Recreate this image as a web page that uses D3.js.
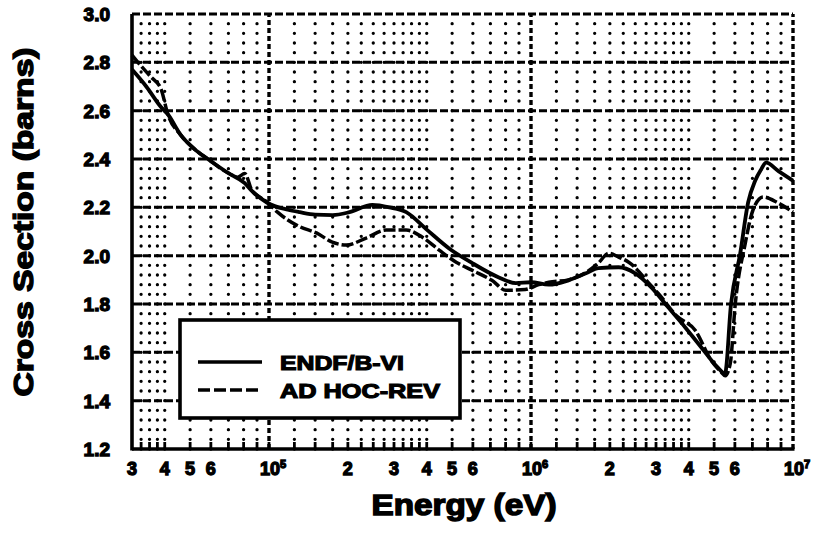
<!DOCTYPE html>
<html>
<head>
<meta charset="utf-8">
<script src="https://cdn.jsdelivr.net/npm/d3@7"></script>
<style>
  body { margin: 0; background: #fff; }
  text { font-family: "Liberation Sans", Arial, sans-serif; font-weight: bold; fill: #000; }
</style>
</head>
<body>
<div id="visContainer"></div>
<script>
// ENDF/B-VI (solid)
const endfEnergy = [3.0e4, 3.4e4, 3.87e4, 4.11e4, 4.6e4, 5.21e4, 5.84e4, 6.96e4, 8.08e4, 8.6e4, 9.88e4,
  1.18e5, 1.31e5, 1.5e5, 1.75e5, 2.03e5, 2.48e5, 2.88e5, 3.34e5, 3.98e5, 4.87e5, 5.95e5, 7.54e5, 8.75e5,
  1.0e6, 1.17e6, 1.39e6, 1.62e6, 1.81e6, 2.16e6, 2.5e6, 2.88e6, 3.34e6, 3.88e6, 4.47e6, 5.18e6, 5.5e6,
  5.8e6, 6.29e6, 6.74e6, 7.17e6, 7.55e6, 7.89e6, 8.8e6, 1.0e7];
const endfXS = [2.77, 2.70, 2.615, 2.585, 2.50, 2.44, 2.40, 2.343, 2.30, 2.268, 2.218,
  2.19, 2.18, 2.17, 2.168, 2.18, 2.21, 2.20, 2.18, 2.11, 2.03, 1.97, 1.91, 1.886,
  1.89, 1.88, 1.898, 1.927, 1.948, 1.952, 1.927, 1.869, 1.786, 1.703, 1.62, 1.536, 1.512,
  1.80, 2.01, 2.22, 2.31, 2.356, 2.385, 2.35, 2.31];

// AD HOC-REV (dashed)
const adhocEnergy = [3.0e4, 3.16e4, 3.54e4, 3.87e4, 4.11e4, 4.6e4, 5.21e4, 5.84e4, 6.96e4, 7.59e4, 8.08e4,
  8.6e4, 9.29e4, 9.88e4, 1.078e5, 1.31e5, 1.517e5, 1.745e5, 1.973e5, 2.35e5, 2.8e5, 3.34e5, 3.84e5,
  4.46e5, 5.18e5, 5.95e5, 7.09e5, 8.02e5, 9.5e5, 1.07e6, 1.17e6, 1.39e6, 1.62e6, 1.81e6, 1.98e6,
  2.16e6, 2.36e6, 2.88e6, 3.06e6, 3.6e6, 4.24e6, 4.88e6, 5.3e6, 5.51e6, 5.76e6, 6.02e6, 6.57e6,
  7.04e6, 7.69e6, 8.77e6, 1.0e7];
const adhocXS = [2.83, 2.80, 2.74, 2.69, 2.585, 2.50, 2.44, 2.40, 2.343, 2.325, 2.34,
  2.27, 2.24, 2.22, 2.18, 2.12, 2.094, 2.056, 2.044, 2.073, 2.106, 2.106, 2.077,
  2.023, 1.973, 1.94, 1.898, 1.857, 1.86, 1.88, 1.89, 1.90, 1.93, 1.97, 2.01,
  1.994, 1.973, 1.875, 1.844, 1.75, 1.69, 1.565, 1.52, 1.503, 1.553, 1.80, 2.05,
  2.19, 2.243, 2.218, 2.18];

const yTicks = [1.2, 1.4, 1.6, 1.8, 2.0, 2.2, 2.4, 2.6, 2.8, 3.0];
const xTickValues = [3e4, 4e4, 5e4, 6e4, 1e5, 2e5, 3e5, 4e5, 5e5, 6e5, 1e6, 2e6, 3e6, 4e6, 5e6, 6e6, 1e7];
const xTickText = ["3", "4", "5", "6", "10|5", "2", "3", "4", "5", "6", "10|6", "2", "3", "4", "5", "6", "10|7"];
const decades = [1e4, 1e5, 1e6];
const gridMantissas = [1.25, 1.5, 1.75, 2, 2.25, 2.5, 2.75, 3, 3.25, 3.5, 3.75, 4, 5, 6, 7, 8, 9];
const legendNames = ["ENDF/B-VI", "AD HOC-REV"];

function renderChart() {
    const width = 816, height = 537;

    const x = d3.scaleLog().domain([3e4, 1e7]).range([132, 793]);
    const y = d3.scaleLinear().domain([1.2, 3.0]).range([449, 14]);

    const svg = d3.select("#visContainer").append("svg")
        .attr("width", width)
        .attr("height", height)
        .style("display", "block")
        .style("background", "#fff");

    // minor dotted columns
    const minor = [];
    decades.forEach(dec => gridMantissas.forEach(m => {
        const v = m * dec;
        if (v > 3e4 * 1.001 && v < 1e7 * 0.999) minor.push(v);
    }));
    const dotStep = y(1.2) - y(1.24);

    const grid = svg.append("g");
    grid.selectAll("line.minor")
        .data(minor)
        .join("line")
        .attr("class", "minor")
        .attr("x1", d => x(d)).attr("x2", d => x(d))
        .attr("y1", y(1.2)).attr("y2", y(3.0))
        .attr("stroke", "#000")
        .attr("stroke-width", 3.3)
        .attr("stroke-linecap", "round")
        .attr("stroke-dasharray", `0 ${dotStep}`);

    // horizontal major dashed lines
    grid.selectAll("line.hmajor")
        .data(yTicks.slice(1))
        .join("line")
        .attr("class", "hmajor")
        .attr("x1", x(3e4)).attr("x2", x(1e7))
        .attr("y1", d => y(d)).attr("y2", d => y(d))
        .attr("stroke", "#000")
        .attr("stroke-width", 3)
        .attr("stroke-dasharray", "8 3");

    // vertical major dashed lines
    grid.selectAll("line.vmajor")
        .data([1e5, 1e6, 1e7])
        .join("line")
        .attr("class", "vmajor")
        .attr("x1", d => x(d)).attr("x2", d => x(d))
        .attr("y1", y(1.2)).attr("y2", y(3.0))
        .attr("stroke", "#000")
        .attr("stroke-width", 3.4)
        .attr("stroke-dasharray", "5 3");

    // small ticks on the bottom axis
    grid.selectAll("line.tick")
        .data(minor.concat([1e5, 1e6]))
        .join("line")
        .attr("class", "tick")
        .attr("x1", d => x(d)).attr("x2", d => x(d))
        .attr("y1", y(1.2)).attr("y2", y(1.2) - 7)
        .attr("stroke", "#000")
        .attr("stroke-width", 2.8);

    // axes lines
    svg.append("line")
        .attr("x1", x(3e4)).attr("x2", x(3e4))
        .attr("y1", y(1.2) + 1.5).attr("y2", y(3.0))
        .attr("stroke", "#000").attr("stroke-width", 3.6);
    svg.append("line")
        .attr("x1", x(3e4)).attr("x2", x(1e7) + 1.5)
        .attr("y1", y(1.2)).attr("y2", y(1.2))
        .attr("stroke", "#000").attr("stroke-width", 3.6);

    // y tick labels
    svg.append("g").selectAll("text")
        .data(yTicks)
        .join("text")
        .attr("x", 110)
        .attr("y", d => y(d) + 7)
        .attr("text-anchor", "end")
        .style("font-size", "19px")
        .attr("stroke", "#000").attr("stroke-width", 1.3)
        .text(d => d.toFixed(1));

    // x tick labels
    const xl = svg.append("g").selectAll("text")
        .data(xTickValues)
        .join("text")
        .attr("x", (d, i) => x(d) + (xTickText[i].includes("|") ? 4 : 0))
        .attr("y", 475)
        .attr("text-anchor", "middle")
        .style("font-size", "18px")
        .attr("stroke", "#000").attr("stroke-width", 1.3);
    xl.each(function (d, i) {
        const parts = xTickText[i].split("|");
        const t = d3.select(this);
        t.append("tspan").text(parts[0]);
        if (parts[1]) t.append("tspan").attr("dy", -7).style("font-size", "11px").text(parts[1]);
    });

    // curves
    const line = d3.line()
        .x(d => x(d[0]))
        .y(d => y(d[1]))
        .curve(d3.curveMonotoneX);

    svg.append("path")
        .datum(endfEnergy.map((e, i) => [e, endfXS[i]]))
        .attr("d", line)
        .attr("fill", "none")
        .attr("stroke", "#000")
        .attr("stroke-width", 3.8)
        .attr("stroke-linejoin", "round");

    svg.append("path")
        .datum(adhocEnergy.map((e, i) => [e, adhocXS[i]]))
        .attr("d", line)
        .attr("fill", "none")
        .attr("stroke", "#000")
        .attr("stroke-width", 3.5)
        .attr("stroke-dasharray", "12 3");

    // legend
    const lg = svg.append("g");
    lg.append("rect")
        .attr("x", 180).attr("y", 320)
        .attr("width", 280).attr("height", 98)
        .attr("fill", "#fff")
        .attr("stroke", "#000").attr("stroke-width", 3.6);
    legendNames.forEach((name, i) => {
        const ly = 362 + i * 28;
        lg.append("line")
            .attr("x1", 198).attr("x2", 262)
            .attr("y1", ly).attr("y2", ly)
            .attr("stroke", "#000").attr("stroke-width", 3.6)
            .attr("stroke-dasharray", i === 1 ? "12 4" : null);
        lg.append("text")
            .attr("x", 280).attr("y", ly + 8)
            .style("font-size", "21px")
            .attr("textLength", i === 0 ? 124 : 160)
            .attr("lengthAdjust", "spacingAndGlyphs")
            .attr("stroke", "#000").attr("stroke-width", 1.2)
            .text(name);
    });

    // axis titles
    svg.append("text")
        .attr("transform", "translate(33,222) rotate(-90)")
        .attr("text-anchor", "middle")
        .style("font-size", "28px")
        .attr("textLength", 349)
        .attr("lengthAdjust", "spacingAndGlyphs")
        .attr("stroke", "#000").attr("stroke-width", 1.4)
        .text("Cross Section (barns)");

    svg.append("text")
        .attr("x", 464).attr("y", 515)
        .attr("text-anchor", "middle")
        .style("font-size", "29px")
        .attr("textLength", 185)
        .attr("lengthAdjust", "spacingAndGlyphs")
        .attr("stroke", "#000").attr("stroke-width", 1.4)
        .text("Energy (eV)");
}

document.addEventListener("DOMContentLoaded", function () {
    renderChart();
});
</script>
</body>
</html>
